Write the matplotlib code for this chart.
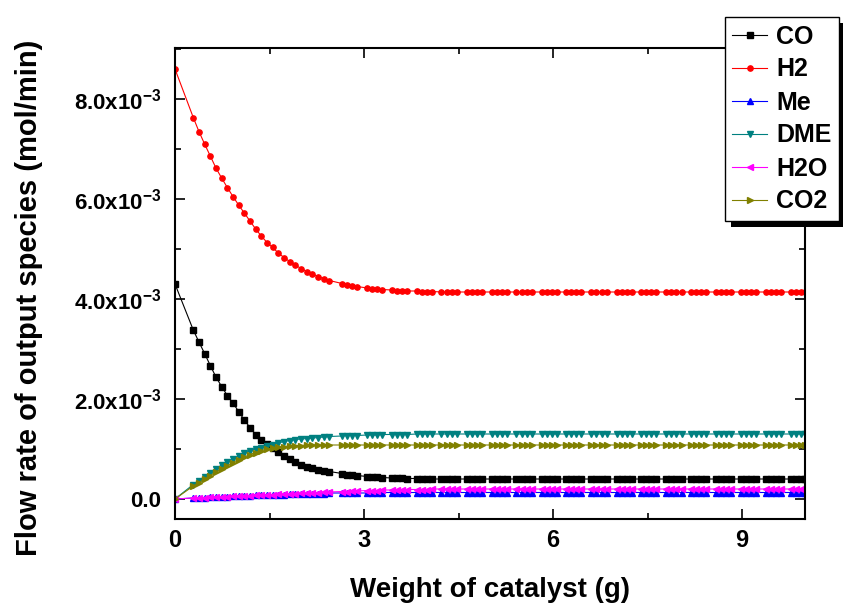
import numpy as np
import matplotlib
matplotlib.use('Agg')
import matplotlib.pyplot as plt
from matplotlib.ticker import MultipleLocator, FuncFormatter
from matplotlib.patches import Rectangle
from matplotlib.transforms import IdentityTransform

plt.rcParams['font.family'] = ['Liberation Sans', 'DejaVu Sans']
plt.rcParams['font.weight'] = 'bold'
plt.rcParams['mathtext.fontset'] = 'custom'
plt.rcParams['mathtext.rm'] = 'Liberation Sans:bold'
plt.rcParams['mathtext.bf'] = 'Liberation Sans:bold'

# Weight of catalyst (g) at each plotted point
weight = [0.00, 0.29, 0.38, 0.47, 0.56, 0.65, 0.74, 0.83, 0.92, 1.01, 1.10, 1.19, 1.28,
          1.37, 1.46, 1.55, 1.64, 1.73, 1.82, 1.91, 2.00, 2.09, 2.18, 2.27, 2.36, 2.45,
          2.65, 2.73, 2.81, 2.89, 3.05, 3.13, 3.21, 3.29, 3.44, 3.52, 3.60, 3.68,
          3.84, 3.92, 4.00, 4.08,
          4.23, 4.31, 4.39, 4.47, 4.63, 4.71, 4.79, 4.87, 5.03, 5.11, 5.19, 5.27,
          5.42, 5.50, 5.58, 5.66, 5.82, 5.90, 5.98, 6.06, 6.21, 6.29, 6.37, 6.45,
          6.61, 6.69, 6.77, 6.85, 7.01, 7.09, 7.17, 7.25, 7.40, 7.48, 7.56, 7.64,
          7.80, 7.88, 7.96, 8.04, 8.19, 8.27, 8.35, 8.43, 8.59, 8.67, 8.75, 8.83,
          8.99, 9.07, 9.15, 9.23, 9.38, 9.46, 9.54, 9.62, 9.78, 9.86, 9.94, 10.00]

# flow rates in units of 1e-3 mol/min
co = [4.30, 3.38, 3.14, 2.91, 2.67, 2.44, 2.25, 2.07, 1.92, 1.75, 1.58, 1.43, 1.29,
      1.19, 1.10, 1.02, 0.94, 0.87, 0.80, 0.74, 0.69, 0.65, 0.62, 0.59, 0.57, 0.55,
      0.51, 0.49, 0.48, 0.47, 0.45, 0.44, 0.44, 0.43, 0.42, 0.42, 0.42, 0.41,
      0.41, 0.41, 0.41, 0.40,
      0.40, 0.40, 0.40, 0.40, 0.40, 0.40, 0.40, 0.40, 0.40, 0.40, 0.40, 0.40,
      0.40, 0.40, 0.40, 0.40, 0.40, 0.40, 0.40, 0.40, 0.40, 0.40, 0.40, 0.40,
      0.40, 0.40, 0.40, 0.40, 0.40, 0.40, 0.40, 0.40, 0.40, 0.40, 0.40, 0.40,
      0.40, 0.40, 0.40, 0.40, 0.40, 0.40, 0.40, 0.40, 0.40, 0.40, 0.40, 0.40,
      0.40, 0.40, 0.40, 0.40, 0.40, 0.40, 0.40, 0.40, 0.40, 0.40, 0.40, 0.40]

h2 = [8.60, 7.63, 7.35, 7.10, 6.86, 6.62, 6.42, 6.23, 6.05, 5.88, 5.72, 5.56, 5.40,
      5.26, 5.13, 5.03, 4.92, 4.83, 4.75, 4.68, 4.61, 4.55, 4.50, 4.45, 4.41, 4.37,
      4.31, 4.29, 4.27, 4.25, 4.22, 4.21, 4.20, 4.19, 4.18, 4.17, 4.17, 4.16,
      4.16, 4.15, 4.15, 4.15,
      4.14, 4.14, 4.14, 4.14, 4.14, 4.14, 4.14, 4.14, 4.14, 4.14, 4.14, 4.14,
      4.14, 4.14, 4.14, 4.14, 4.14, 4.14, 4.14, 4.14, 4.14, 4.14, 4.14, 4.14,
      4.14, 4.14, 4.14, 4.14, 4.14, 4.14, 4.14, 4.14, 4.14, 4.14, 4.14, 4.14,
      4.14, 4.14, 4.14, 4.14, 4.14, 4.14, 4.14, 4.14, 4.14, 4.14, 4.14, 4.14,
      4.14, 4.14, 4.14, 4.14, 4.14, 4.14, 4.14, 4.14, 4.14, 4.14, 4.14, 4.14]

me = [0.00, 0.02, 0.03, 0.03, 0.04, 0.04, 0.05, 0.05, 0.06, 0.06, 0.07, 0.07, 0.08,
      0.08, 0.08, 0.09, 0.09, 0.09, 0.10, 0.10, 0.10, 0.11, 0.11, 0.11, 0.11, 0.12,
      0.12, 0.12, 0.12, 0.12, 0.12, 0.13, 0.13, 0.13, 0.13, 0.13, 0.13, 0.13,
      0.13, 0.13, 0.13, 0.13,
      0.13, 0.13, 0.13, 0.13, 0.13, 0.13, 0.13, 0.13, 0.13, 0.13, 0.13, 0.13,
      0.13, 0.13, 0.13, 0.13, 0.13, 0.13, 0.13, 0.13, 0.13, 0.13, 0.13, 0.13,
      0.13, 0.13, 0.13, 0.13, 0.13, 0.13, 0.13, 0.13, 0.13, 0.13, 0.13, 0.13,
      0.13, 0.13, 0.13, 0.13, 0.13, 0.13, 0.13, 0.13, 0.13, 0.13, 0.13, 0.13,
      0.13, 0.13, 0.13, 0.13, 0.13, 0.13, 0.13, 0.13, 0.13, 0.13, 0.13, 0.13]

dme = [0.00, 0.29, 0.37, 0.45, 0.53, 0.61, 0.68, 0.74, 0.80, 0.86, 0.92, 0.96, 1.00,
       1.03, 1.06, 1.09, 1.12, 1.15, 1.17, 1.19, 1.20, 1.21, 1.22, 1.23, 1.24, 1.25,
       1.26, 1.27, 1.27, 1.27, 1.28, 1.28, 1.28, 1.29, 1.29, 1.29, 1.29, 1.29,
       1.30, 1.30, 1.30, 1.30,
       1.30, 1.30, 1.30, 1.30, 1.30, 1.30, 1.30, 1.30, 1.30, 1.30, 1.30, 1.30,
       1.30, 1.30, 1.30, 1.30, 1.30, 1.30, 1.30, 1.30, 1.30, 1.30, 1.30, 1.30,
       1.30, 1.30, 1.30, 1.30, 1.30, 1.30, 1.30, 1.30, 1.30, 1.30, 1.30, 1.30,
       1.30, 1.30, 1.30, 1.30, 1.30, 1.30, 1.30, 1.30, 1.30, 1.30, 1.30, 1.30,
       1.30, 1.30, 1.30, 1.30, 1.30, 1.30, 1.30, 1.30, 1.30, 1.30, 1.30, 1.30]

h2o = [0.00, 0.02, 0.03, 0.03, 0.04, 0.04, 0.05, 0.05, 0.06, 0.06, 0.07, 0.07, 0.08,
       0.08, 0.09, 0.09, 0.10, 0.10, 0.11, 0.11, 0.12, 0.12, 0.13, 0.13, 0.14, 0.14,
       0.15, 0.15, 0.16, 0.16, 0.17, 0.17, 0.17, 0.18, 0.18, 0.18, 0.19, 0.19,
       0.19, 0.19, 0.19, 0.20,
       0.20, 0.20, 0.20, 0.20, 0.20, 0.20, 0.20, 0.20, 0.20, 0.20, 0.20, 0.20,
       0.20, 0.20, 0.20, 0.20, 0.20, 0.20, 0.20, 0.20, 0.20, 0.20, 0.20, 0.20,
       0.20, 0.20, 0.20, 0.20, 0.20, 0.20, 0.20, 0.20, 0.20, 0.20, 0.20, 0.20,
       0.20, 0.20, 0.20, 0.20, 0.20, 0.20, 0.20, 0.20, 0.20, 0.20, 0.20, 0.20,
       0.20, 0.20, 0.20, 0.20, 0.20, 0.20, 0.20, 0.20, 0.20, 0.20, 0.20, 0.20]

co2 = [0.00, 0.26, 0.33, 0.40, 0.47, 0.54, 0.61, 0.67, 0.73, 0.79, 0.84, 0.89, 0.93,
       0.97, 1.00, 1.02, 1.04, 1.05, 1.06, 1.07, 1.07, 1.08, 1.08, 1.08, 1.08, 1.08,
       1.08, 1.08, 1.08, 1.08, 1.08, 1.08, 1.08, 1.08, 1.08, 1.08, 1.08, 1.08,
       1.08, 1.08, 1.08, 1.08,
       1.08, 1.08, 1.08, 1.08, 1.08, 1.08, 1.08, 1.08, 1.08, 1.08, 1.08, 1.08,
       1.08, 1.08, 1.08, 1.08, 1.08, 1.08, 1.08, 1.08, 1.08, 1.08, 1.08, 1.08,
       1.08, 1.08, 1.08, 1.08, 1.08, 1.08, 1.08, 1.08, 1.08, 1.08, 1.08, 1.08,
       1.08, 1.08, 1.08, 1.08, 1.08, 1.08, 1.08, 1.08, 1.08, 1.08, 1.08, 1.08,
       1.08, 1.08, 1.08, 1.08, 1.08, 1.08, 1.08, 1.08, 1.08, 1.08, 1.08, 1.08]

series = [
    ('CO', co, 'black', 's'),
    ('H2', h2, 'red', 'o'),
    ('Me', me, 'blue', '^'),
    ('DME', dme, '#008080', 'v'),
    ('H2O', h2o, 'magenta', '<'),
    ('CO2', co2, '#808000', '>'),
]

fig = plt.figure(figsize=(8.43, 6.03), dpi=100)
ax = fig.add_axes([175 / 843, 1 - 519 / 603, 630 / 843, 471 / 603])
ax.patch.set_visible(False)

x = np.array(weight)
for name, vals, color, marker in series:
    ax.plot(x, np.array(vals) * 1e-3, color=color, marker=marker, markersize=3.8,
            linewidth=0.8, label=name)

ax.set_xlim(0, 10)
ax.set_ylim(-0.4e-3, 9.02e-3)

ax.xaxis.set_major_locator(MultipleLocator(3))
ax.xaxis.set_minor_locator(MultipleLocator(1.5))
ax.yaxis.set_major_locator(MultipleLocator(2e-3))
ax.yaxis.set_minor_locator(MultipleLocator(1e-3))


def ylab(v, pos):
    m = v * 1e3
    if abs(m) < 1e-9:
        return '0.0'
    return r'$%.1f\mathrm{x}10^{-3}$' % m


ax.yaxis.set_major_formatter(FuncFormatter(ylab))
ax.tick_params(which='both', direction='in', top=True, right=True, width=1.2)
ax.tick_params(which='major', length=7)
ax.tick_params(which='minor', length=4)
ax.tick_params(axis='x', labelsize=17, pad=7)
ax.tick_params(axis='y', labelsize=16, pad=10)
for sp in ax.spines.values():
    sp.set_linewidth(1.5)

ax.set_xlabel('Weight of catalyst (g)', fontsize=20, fontweight='bold', labelpad=18)
ax.set_ylabel('Flow rate of output species (mol/min)', fontsize=21, fontweight='bold')
ax.yaxis.set_label_coords(-0.21, 0.47)

handles, labels = ax.get_legend_handles_labels()
leg = fig.legend(handles, labels, loc='upper right', bbox_to_anchor=(839 / 843, 1 - 17 / 603),
                 borderaxespad=0, fancybox=False, edgecolor='black', framealpha=1,
                 prop={'size': 18, 'weight': 'bold'}, numpoints=1, handlelength=1.4,
                 handletextpad=0.35, labelspacing=0.36, borderpad=0.3)
leg.get_frame().set_linewidth(1.0)

# shadow under the legend box
fig.canvas.draw()
bb = leg.get_window_extent()
fig.add_artist(Rectangle((bb.x0 + 6, bb.y0 - 6), bb.width, bb.height,
                         transform=IdentityTransform(), facecolor='black',
                         edgecolor='none', zorder=4.5))

fig.savefig('out.png', dpi=100)
